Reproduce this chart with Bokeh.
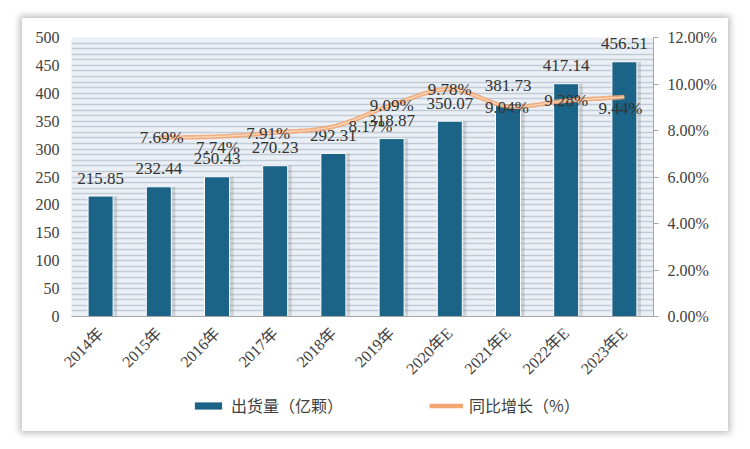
import numpy as np
from bokeh.plotting import figure
from bokeh.layouts import column
from bokeh.models import (Range1d, LinearAxis, SingleIntervalTicker, FixedTicker,
                          PrintfTickFormatter, Legend, LegendItem, ColumnDataSource)
from bokeh.core.properties import value
from bokeh.embed import file_html
from bokeh.resources import INLINE

# ---- data ----
years = ["2014年", "2015年", "2016年", "2017年", "2018年", "2019年",
         "2020年E", "2021年E", "2022年E", "2023年E"]
shipments = [215.85, 232.44, 250.43, 270.23, 292.31, 318.87, 350.07, 381.73, 417.14, 456.51]
growth_years = ["2015年", "2016年", "2017年", "2018年", "2019年",
                "2020年E", "2021年E", "2022年E", "2023年E"]
growth = [7.69, 7.74, 7.91, 8.17, 9.09, 9.78, 9.04, 9.28, 9.44]
left_ticks = [0, 50, 100, 150, 200, 250, 300, 350, 400, 450, 500]
right_ticks = [0, 2, 4, 6, 8, 10, 12]
series_names = ["出货量（亿颗）", "同比增长（%）"]
# label nudges (screen px) for growth labels
pct_dx = [3, 1, -7, 37, 0, 0, -1, 0, -4]
pct_dy = [0, 11, 1, 0, 0, 0, 1, 0, 11]

SERIF = "Liberation Serif, Noto Sans CJK SC"
TXT = "#404040"
BAR = "#1B6387"
LINE = "#F2A672"

xi = list(range(len(years)))
gx = [years.index(y) for y in growth_years]

p = figure(width=706, height=368, output_backend="svg", toolbar_location=None,
           x_range=Range1d(-0.5, len(years) - 0.5), y_range=Range1d(0, 500),
           min_border_left=49, min_border_right=75, min_border_top=19, min_border_bottom=63)
p.background_fill_color = "#EAF0F6"
p.border_fill_color = "white"
p.outline_line_color = None
p.extra_y_ranges = {"pct": Range1d(0, 12)}

# axes
p.xaxis.ticker = FixedTicker(ticks=xi)
p.xaxis.major_label_overrides = {i: y for i, y in enumerate(years)}
p.xaxis.major_label_orientation = np.pi / 4
p.xaxis.axis_line_color = "#A6A6A6"
p.xaxis.major_tick_line_color = None
p.xaxis.major_tick_out = 0
p.xaxis.major_tick_in = 0
p.xaxis.minor_tick_line_color = None
p.xaxis.major_label_standoff = 14
p.xaxis.major_label_text_font = SERIF
p.xaxis.major_label_text_font_size = "16px"
p.xaxis.major_label_text_color = TXT

p.yaxis.ticker = FixedTicker(ticks=left_ticks)
p.yaxis.axis_line_color = None
p.yaxis.major_tick_line_color = None
p.yaxis.major_tick_out = 0
p.yaxis.major_tick_in = 0
p.yaxis.minor_tick_line_color = None
p.yaxis.major_label_standoff = 12
p.yaxis.major_label_text_font = SERIF
p.yaxis.major_label_text_font_size = "16px"
p.yaxis.major_label_text_color = TXT

ra = LinearAxis(y_range_name="pct", ticker=FixedTicker(ticks=right_ticks),
                formatter=PrintfTickFormatter(format="%.2f%%"))
ra.axis_line_color = "#A6A6A6"
ra.major_tick_line_color = "#A6A6A6"
ra.major_tick_out = 5
ra.major_tick_in = 0
ra.minor_tick_line_color = None
ra.major_label_standoff = 9
ra.major_label_text_font = SERIF
ra.major_label_text_font_size = "16px"
ra.major_label_text_color = TXT
p.add_layout(ra, "right")

p.xgrid.grid_line_color = None
p.ygrid.ticker = SingleIntervalTicker(interval=10)
p.ygrid.grid_line_color = "#C3CCD5"
p.ygrid.grid_line_width = 1.5

# bars
src = ColumnDataSource(dict(x=xi, sx=[x + 0.05 for x in xi], v=shipments,
                            lab=[f"{v:.2f}" for v in shipments]))
p.vbar(x="sx", top="v", width=0.47, bottom=0, source=src, fill_color="#000000",
       fill_alpha=0.12, line_color=None)
p.vbar(x="x", top="v", width=0.43, bottom=0, source=src, fill_color=BAR,
       line_color="white", line_width=1)
p.text(x="x", y="v", text="lab", source=src, text_align="center", text_baseline="middle",
       y_offset=-18, text_font=value("Liberation Serif"), text_font_size="17px",
       text_color="#333333")

# smoothed growth line (Bezier through data points)
P = np.array([gx, growth], dtype=float).T
n = len(P)
xs_s, ys_s = [], []
for i in range(n - 1):
    p0 = P[i - 1] if i > 0 else P[i]
    p1, p2 = P[i], P[i + 1]
    p3 = P[i + 2] if i + 2 < n else P[i + 1]
    c1 = p1 + (p2 - p0) / 6.0
    c2 = p2 - (p3 - p1) / 6.0
    for t in np.linspace(0, 1, 20, endpoint=(i == n - 2)):
        b = ((1 - t) ** 3) * p1 + 3 * ((1 - t) ** 2) * t * c1 + 3 * (1 - t) * t * t * c2 + t ** 3 * p2
        xs_s.append(b[0]); ys_s.append(b[1])
p.line(xs_s, ys_s, y_range_name="pct", line_color=LINE, line_width=4.5, line_alpha=0.9)
p.line(xs_s, ys_s, y_range_name="pct", line_color="#FBD9C0", line_width=1.2)

gsrc = ColumnDataSource(dict(x=gx, y=growth, lab=[f"{g:.2f}%" for g in growth],
                             dx=pct_dx, dy=pct_dy))
p.text(x="x", y="y", text="lab", source=gsrc, y_range_name="pct", text_align="center",
       text_baseline="middle", x_offset="dx", y_offset="dy",
       text_font=value("Liberation Serif"), text_font_size="17px", text_color="#333333")

# ---- legend strip ----
lf = figure(width=706, height=45, output_backend="svg", toolbar_location=None,
            x_range=Range1d(0, 1), y_range=Range1d(0, 1),
            min_border_left=0, min_border_right=0, min_border_top=0, min_border_bottom=0)
lf.axis.visible = False
lf.grid.grid_line_color = None
lf.outline_line_color = None
lf.background_fill_color = "white"
lf.border_fill_color = "white"
# zero-size placeholder glyphs, used only as legend swatches
rb = lf.vbar(x=[0.5], top=[0.5], bottom=[0.5], width=0.0, fill_color=BAR, line_color=None)
rl = lf.line(x=[0.5, 0.5], y=[0.5, 0.5], line_color=LINE, line_width=4.5, line_cap="butt")
legend = Legend(items=[LegendItem(label=series_names[0], renderers=[rb]),
                       LegendItem(label=series_names[1], renderers=[rl])],
                orientation="horizontal", location=(120, 14))
legend.label_text_font = "Noto Sans CJK SC"
legend.label_text_font_size = "16px"
legend.label_text_color = TXT
legend.glyph_width = 34
legend.glyph_height = 9
legend.label_standoff = 6
legend.spacing = 86
legend.padding = 6
legend.margin = 0
legend.border_line_color = None
legend.background_fill_color = "white"
legend.background_fill_alpha = 1
lf.add_layout(legend, "center")

layout = column(p, lf, spacing=0, margin=(18, 22, 18, 22),
                styles={"box-shadow": "0 0 7px 2px rgba(0,0,0,0.28)",
                        "background-color": "white"})

open("out.html", "w").write(file_html(layout, INLINE))
